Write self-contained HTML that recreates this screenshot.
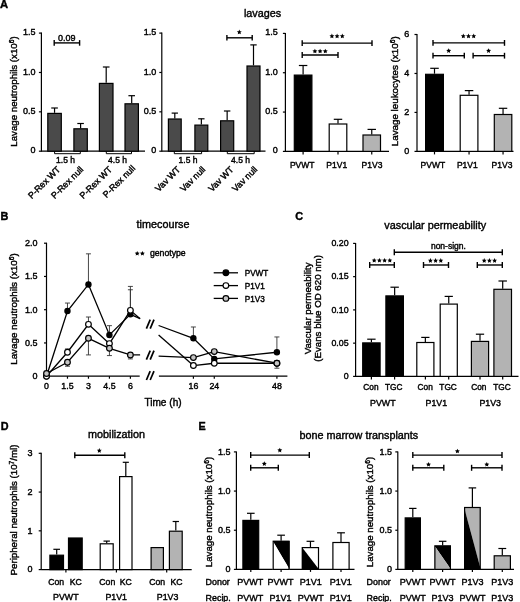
<!DOCTYPE html>
<html><head><meta charset="utf-8"><style>
html,body{margin:0;padding:0;background:#fff;}
svg{display:block;will-change:transform;}
text{font-family:"Liberation Sans", sans-serif;}
</style></head><body>
<svg width="520" height="602" viewBox="0 0 520 602">
<rect width="520" height="602" fill="#fff"/>
<text transform="translate(0.00,8.30)" font-size="11.2" text-anchor="start" font-weight="bold" fill="#000" stroke="#000" stroke-width="0.4">A</text>
<text transform="translate(262.50,17.00)" font-size="10.8" text-anchor="middle" font-weight="normal" fill="#000" stroke="#000" stroke-width="0.4">lavages</text>
<line x1="41.40" y1="32.60" x2="41.40" y2="151.70" stroke="#000" stroke-width="1.2"/>
<line x1="38.90" y1="33.10" x2="41.40" y2="33.10" stroke="#000" stroke-width="1.2"/>
<text transform="translate(35.40,35.26)" font-size="9" text-anchor="end" font-weight="normal" fill="#000" stroke="#000" stroke-width="0.4">1.5</text>
<line x1="38.90" y1="72.47" x2="41.40" y2="72.47" stroke="#000" stroke-width="1.2"/>
<text transform="translate(35.40,74.63)" font-size="9" text-anchor="end" font-weight="normal" fill="#000" stroke="#000" stroke-width="0.4">1.0</text>
<line x1="38.90" y1="111.83" x2="41.40" y2="111.83" stroke="#000" stroke-width="1.2"/>
<text transform="translate(35.40,113.99)" font-size="9" text-anchor="end" font-weight="normal" fill="#000" stroke="#000" stroke-width="0.4">0.5</text>
<line x1="38.90" y1="151.20" x2="41.40" y2="151.20" stroke="#000" stroke-width="1.2"/>
<text transform="translate(35.40,153.36)" font-size="9" text-anchor="end" font-weight="normal" fill="#000" stroke="#000" stroke-width="0.4">0</text>
<line x1="41.40" y1="151.20" x2="145.00" y2="151.20" stroke="#000" stroke-width="1.2"/>
<text transform="translate(17.00,91.50) rotate(-90)" font-size="9.7" text-anchor="middle" font-weight="normal" fill="#000" stroke="#000" stroke-width="0.4">Lavage neutrophils (x10<tspan dy="-3" font-size="6.7">6</tspan><tspan dy="3">)</tspan></text>
<line x1="54.55" y1="112.80" x2="54.55" y2="108.00" stroke="#000" stroke-width="1.2"/>
<line x1="51.24" y1="108.00" x2="57.86" y2="108.00" stroke="#000" stroke-width="1.2"/>
<rect x="47.80" y="113.40" width="13.50" height="37.80" fill="#4a4a4a" stroke="#000" stroke-width="1.2"/>
<line x1="80.60" y1="128.20" x2="80.60" y2="123.50" stroke="#000" stroke-width="1.2"/>
<line x1="77.31" y1="123.50" x2="83.88" y2="123.50" stroke="#000" stroke-width="1.2"/>
<rect x="73.90" y="128.80" width="13.40" height="22.40" fill="#4a4a4a" stroke="#000" stroke-width="1.2"/>
<line x1="106.20" y1="82.80" x2="106.20" y2="67.00" stroke="#000" stroke-width="1.2"/>
<line x1="102.87" y1="67.00" x2="109.53" y2="67.00" stroke="#000" stroke-width="1.2"/>
<rect x="99.40" y="83.40" width="13.60" height="67.80" fill="#4a4a4a" stroke="#000" stroke-width="1.2"/>
<line x1="131.70" y1="103.20" x2="131.70" y2="95.70" stroke="#000" stroke-width="1.2"/>
<line x1="128.41" y1="95.70" x2="134.98" y2="95.70" stroke="#000" stroke-width="1.2"/>
<rect x="125.00" y="103.80" width="13.40" height="47.40" fill="#4a4a4a" stroke="#000" stroke-width="1.2"/>
<path d="M54.60,151.20 V153.70 H80.30 V151.20" stroke="#000" stroke-width="1.0" fill="none"/>
<path d="M106.30,151.20 V153.70 H131.50 V151.20" stroke="#000" stroke-width="1.0" fill="none"/>
<text transform="translate(65.50,162.60)" font-size="8.5" text-anchor="middle" font-weight="normal" fill="#000" stroke="#000" stroke-width="0.4">1.5 h</text>
<text transform="translate(117.50,162.60)" font-size="8.5" text-anchor="middle" font-weight="normal" fill="#000" stroke="#000" stroke-width="0.4">4.5 h</text>
<line x1="54.20" y1="42.90" x2="79.60" y2="42.90" stroke="#000" stroke-width="1.4"/>
<line x1="54.20" y1="40.10" x2="54.20" y2="45.70" stroke="#000" stroke-width="1.4"/>
<line x1="79.60" y1="40.10" x2="79.60" y2="45.70" stroke="#000" stroke-width="1.4"/>
<text transform="translate(66.80,40.60)" font-size="9" text-anchor="middle" font-weight="normal" fill="#000" stroke="#000" stroke-width="0.4">0.09</text>
<text transform="translate(61.00,170.00) rotate(-45)" font-size="9" text-anchor="end" font-weight="normal" fill="#000" stroke="#000" stroke-width="0.4">P-Rex WT</text>
<text transform="translate(84.00,170.00) rotate(-45)" font-size="9" text-anchor="end" font-weight="normal" fill="#000" stroke="#000" stroke-width="0.4">P-Rex null</text>
<text transform="translate(112.60,170.00) rotate(-45)" font-size="9" text-anchor="end" font-weight="normal" fill="#000" stroke="#000" stroke-width="0.4">P-Rex WT</text>
<text transform="translate(135.80,168.80) rotate(-45)" font-size="9" text-anchor="end" font-weight="normal" fill="#000" stroke="#000" stroke-width="0.4">P-Rex null</text>
<line x1="161.80" y1="32.60" x2="161.80" y2="151.70" stroke="#000" stroke-width="1.2"/>
<line x1="159.30" y1="33.10" x2="161.80" y2="33.10" stroke="#000" stroke-width="1.2"/>
<text transform="translate(156.30,35.26)" font-size="9" text-anchor="end" font-weight="normal" fill="#000" stroke="#000" stroke-width="0.4">1.5</text>
<line x1="159.30" y1="72.47" x2="161.80" y2="72.47" stroke="#000" stroke-width="1.2"/>
<text transform="translate(156.30,74.63)" font-size="9" text-anchor="end" font-weight="normal" fill="#000" stroke="#000" stroke-width="0.4">1.0</text>
<line x1="159.30" y1="111.83" x2="161.80" y2="111.83" stroke="#000" stroke-width="1.2"/>
<text transform="translate(156.30,113.99)" font-size="9" text-anchor="end" font-weight="normal" fill="#000" stroke="#000" stroke-width="0.4">0.5</text>
<line x1="159.30" y1="151.20" x2="161.80" y2="151.20" stroke="#000" stroke-width="1.2"/>
<text transform="translate(156.30,153.36)" font-size="9" text-anchor="end" font-weight="normal" fill="#000" stroke="#000" stroke-width="0.4">0</text>
<line x1="161.80" y1="151.20" x2="265.50" y2="151.20" stroke="#000" stroke-width="1.2"/>
<line x1="174.80" y1="118.40" x2="174.80" y2="113.10" stroke="#000" stroke-width="1.2"/>
<line x1="171.65" y1="113.10" x2="177.95" y2="113.10" stroke="#000" stroke-width="1.2"/>
<rect x="168.40" y="119.00" width="12.80" height="32.20" fill="#4a4a4a" stroke="#000" stroke-width="1.2"/>
<line x1="201.35" y1="124.50" x2="201.35" y2="118.80" stroke="#000" stroke-width="1.2"/>
<line x1="198.18" y1="118.80" x2="204.52" y2="118.80" stroke="#000" stroke-width="1.2"/>
<rect x="194.90" y="125.10" width="12.90" height="26.10" fill="#4a4a4a" stroke="#000" stroke-width="1.2"/>
<line x1="227.15" y1="120.20" x2="227.15" y2="111.00" stroke="#000" stroke-width="1.2"/>
<line x1="223.93" y1="111.00" x2="230.37" y2="111.00" stroke="#000" stroke-width="1.2"/>
<rect x="220.60" y="120.80" width="13.10" height="30.40" fill="#4a4a4a" stroke="#000" stroke-width="1.2"/>
<line x1="253.50" y1="65.40" x2="253.50" y2="44.90" stroke="#000" stroke-width="1.2"/>
<line x1="250.31" y1="44.90" x2="256.69" y2="44.90" stroke="#000" stroke-width="1.2"/>
<rect x="247.00" y="66.00" width="13.00" height="85.20" fill="#4a4a4a" stroke="#000" stroke-width="1.2"/>
<path d="M174.30,151.20 V153.70 H201.60 V151.20" stroke="#000" stroke-width="1.0" fill="none"/>
<path d="M227.30,151.20 V153.70 H254.20 V151.20" stroke="#000" stroke-width="1.0" fill="none"/>
<text transform="translate(188.00,162.60)" font-size="8.5" text-anchor="middle" font-weight="normal" fill="#000" stroke="#000" stroke-width="0.4">1.5 h</text>
<text transform="translate(240.50,162.60)" font-size="8.5" text-anchor="middle" font-weight="normal" fill="#000" stroke="#000" stroke-width="0.4">4.5 h</text>
<line x1="226.90" y1="37.80" x2="252.20" y2="37.80" stroke="#000" stroke-width="1.4"/>
<line x1="226.90" y1="35.10" x2="226.90" y2="40.50" stroke="#000" stroke-width="1.4"/>
<line x1="252.20" y1="35.10" x2="252.20" y2="40.50" stroke="#000" stroke-width="1.4"/>
<polygon points="239.30,29.60 240.03,31.14 241.73,31.36 240.49,32.54 240.80,34.21 239.30,33.40 237.80,34.21 238.11,32.54 236.87,31.36 238.57,31.14" fill="#000"/>
<text transform="translate(181.00,170.00) rotate(-45)" font-size="9" text-anchor="end" font-weight="normal" fill="#000" stroke="#000" stroke-width="0.4">Vav WT</text>
<text transform="translate(206.00,170.00) rotate(-45)" font-size="9" text-anchor="end" font-weight="normal" fill="#000" stroke="#000" stroke-width="0.4">Vav null</text>
<text transform="translate(234.20,170.00) rotate(-45)" font-size="9" text-anchor="end" font-weight="normal" fill="#000" stroke="#000" stroke-width="0.4">Vav WT</text>
<text transform="translate(258.00,170.00) rotate(-45)" font-size="9" text-anchor="end" font-weight="normal" fill="#000" stroke="#000" stroke-width="0.4">Vav null</text>
<line x1="285.40" y1="32.90" x2="285.40" y2="151.90" stroke="#000" stroke-width="1.2"/>
<line x1="282.90" y1="33.40" x2="285.40" y2="33.40" stroke="#000" stroke-width="1.2"/>
<text transform="translate(277.70,35.38)" font-size="9" text-anchor="end" font-weight="normal" fill="#000" stroke="#000" stroke-width="0.4">1.5</text>
<line x1="282.90" y1="72.73" x2="285.40" y2="72.73" stroke="#000" stroke-width="1.2"/>
<text transform="translate(277.70,74.71)" font-size="9" text-anchor="end" font-weight="normal" fill="#000" stroke="#000" stroke-width="0.4">1.0</text>
<line x1="282.90" y1="112.07" x2="285.40" y2="112.07" stroke="#000" stroke-width="1.2"/>
<text transform="translate(277.70,114.05)" font-size="9" text-anchor="end" font-weight="normal" fill="#000" stroke="#000" stroke-width="0.4">0.5</text>
<line x1="282.90" y1="151.40" x2="285.40" y2="151.40" stroke="#000" stroke-width="1.2"/>
<text transform="translate(277.70,153.38)" font-size="9" text-anchor="end" font-weight="normal" fill="#000" stroke="#000" stroke-width="0.4">0</text>
<line x1="285.40" y1="151.40" x2="389.00" y2="151.40" stroke="#000" stroke-width="1.2"/>
<line x1="303.10" y1="74.50" x2="303.10" y2="65.50" stroke="#000" stroke-width="1.2"/>
<line x1="298.87" y1="65.50" x2="307.33" y2="65.50" stroke="#000" stroke-width="1.2"/>
<rect x="294.30" y="75.10" width="17.60" height="76.30" fill="#000" stroke="#000" stroke-width="1.2"/>
<line x1="303.10" y1="151.40" x2="303.10" y2="154.40" stroke="#000" stroke-width="1.2"/>
<line x1="338.00" y1="123.40" x2="338.00" y2="119.30" stroke="#000" stroke-width="1.2"/>
<line x1="333.77" y1="119.30" x2="342.23" y2="119.30" stroke="#000" stroke-width="1.2"/>
<rect x="329.20" y="124.00" width="17.60" height="27.40" fill="#fff" stroke="#000" stroke-width="1.2"/>
<line x1="338.00" y1="151.40" x2="338.00" y2="154.40" stroke="#000" stroke-width="1.2"/>
<line x1="371.75" y1="134.40" x2="371.75" y2="129.40" stroke="#000" stroke-width="1.2"/>
<line x1="367.54" y1="129.40" x2="375.96" y2="129.40" stroke="#000" stroke-width="1.2"/>
<rect x="363.00" y="135.00" width="17.50" height="16.40" fill="#b3b3b3" stroke="#000" stroke-width="1.2"/>
<line x1="371.75" y1="151.40" x2="371.75" y2="154.40" stroke="#000" stroke-width="1.2"/>
<line x1="302.20" y1="55.00" x2="338.00" y2="55.00" stroke="#000" stroke-width="1.4"/>
<line x1="302.20" y1="52.10" x2="302.20" y2="57.90" stroke="#000" stroke-width="1.4"/>
<line x1="338.00" y1="52.10" x2="338.00" y2="57.90" stroke="#000" stroke-width="1.4"/>
<line x1="302.20" y1="43.10" x2="372.00" y2="43.10" stroke="#000" stroke-width="1.4"/>
<line x1="302.20" y1="40.20" x2="302.20" y2="46.00" stroke="#000" stroke-width="1.4"/>
<line x1="372.00" y1="40.20" x2="372.00" y2="46.00" stroke="#000" stroke-width="1.4"/>
<polygon points="314.90,48.70 315.63,50.24 317.33,50.46 316.09,51.64 316.40,53.31 314.90,52.50 313.40,53.31 313.71,51.64 312.47,50.46 314.17,50.24" fill="#000"/>
<polygon points="320.10,48.70 320.83,50.24 322.53,50.46 321.29,51.64 321.60,53.31 320.10,52.50 318.60,53.31 318.91,51.64 317.67,50.46 319.37,50.24" fill="#000"/>
<polygon points="325.30,48.70 326.03,50.24 327.73,50.46 326.49,51.64 326.80,53.31 325.30,52.50 323.80,53.31 324.11,51.64 322.87,50.46 324.57,50.24" fill="#000"/>
<polygon points="331.90,33.60 332.63,35.14 334.33,35.36 333.09,36.54 333.40,38.21 331.90,37.40 330.40,38.21 330.71,36.54 329.47,35.36 331.17,35.14" fill="#000"/>
<polygon points="337.10,33.60 337.83,35.14 339.53,35.36 338.29,36.54 338.60,38.21 337.10,37.40 335.60,38.21 335.91,36.54 334.67,35.36 336.37,35.14" fill="#000"/>
<polygon points="342.30,33.60 343.03,35.14 344.73,35.36 343.49,36.54 343.80,38.21 342.30,37.40 340.80,38.21 341.11,36.54 339.87,35.36 341.57,35.14" fill="#000"/>
<text transform="translate(302.20,167.80)" font-size="8.5" text-anchor="middle" font-weight="normal" fill="#000" stroke="#000" stroke-width="0.4">PVWT</text>
<text transform="translate(336.70,167.80)" font-size="8.5" text-anchor="middle" font-weight="normal" fill="#000" stroke="#000" stroke-width="0.4">P1V1</text>
<text transform="translate(372.00,167.80)" font-size="8.5" text-anchor="middle" font-weight="normal" fill="#000" stroke="#000" stroke-width="0.4">P1V3</text>
<line x1="417.00" y1="34.00" x2="417.00" y2="151.90" stroke="#000" stroke-width="1.2"/>
<line x1="414.50" y1="34.50" x2="417.00" y2="34.50" stroke="#000" stroke-width="1.2"/>
<text transform="translate(409.30,37.38)" font-size="9" text-anchor="end" font-weight="normal" fill="#000" stroke="#000" stroke-width="0.4">6</text>
<line x1="414.50" y1="73.47" x2="417.00" y2="73.47" stroke="#000" stroke-width="1.2"/>
<text transform="translate(409.30,76.35)" font-size="9" text-anchor="end" font-weight="normal" fill="#000" stroke="#000" stroke-width="0.4">4</text>
<line x1="414.50" y1="112.43" x2="417.00" y2="112.43" stroke="#000" stroke-width="1.2"/>
<text transform="translate(409.30,115.31)" font-size="9" text-anchor="end" font-weight="normal" fill="#000" stroke="#000" stroke-width="0.4">2</text>
<line x1="414.50" y1="151.40" x2="417.00" y2="151.40" stroke="#000" stroke-width="1.2"/>
<text transform="translate(409.30,154.28)" font-size="9" text-anchor="end" font-weight="normal" fill="#000" stroke="#000" stroke-width="0.4">0</text>
<line x1="417.00" y1="151.40" x2="513.50" y2="151.40" stroke="#000" stroke-width="1.2"/>
<text transform="translate(397.60,91.30) rotate(-90)" font-size="9.8" text-anchor="middle" font-weight="normal" fill="#000" stroke="#000" stroke-width="0.4">Lavage leukocytes (x10<tspan dy="-3" font-size="6.7">6</tspan><tspan dy="3">)</tspan></text>
<line x1="434.50" y1="73.70" x2="434.50" y2="68.30" stroke="#000" stroke-width="1.2"/>
<line x1="430.23" y1="68.30" x2="438.77" y2="68.30" stroke="#000" stroke-width="1.2"/>
<rect x="425.60" y="74.30" width="17.80" height="77.10" fill="#000" stroke="#000" stroke-width="1.2"/>
<line x1="434.50" y1="151.40" x2="434.50" y2="154.40" stroke="#000" stroke-width="1.2"/>
<line x1="469.05" y1="94.70" x2="469.05" y2="90.60" stroke="#000" stroke-width="1.2"/>
<line x1="464.80" y1="90.60" x2="473.30" y2="90.60" stroke="#000" stroke-width="1.2"/>
<rect x="460.20" y="95.30" width="17.70" height="56.10" fill="#fff" stroke="#000" stroke-width="1.2"/>
<line x1="469.05" y1="151.40" x2="469.05" y2="154.40" stroke="#000" stroke-width="1.2"/>
<line x1="503.05" y1="113.90" x2="503.05" y2="108.30" stroke="#000" stroke-width="1.2"/>
<line x1="498.84" y1="108.30" x2="507.26" y2="108.30" stroke="#000" stroke-width="1.2"/>
<rect x="494.30" y="114.50" width="17.50" height="36.90" fill="#b3b3b3" stroke="#000" stroke-width="1.2"/>
<line x1="503.05" y1="151.40" x2="503.05" y2="154.40" stroke="#000" stroke-width="1.2"/>
<line x1="433.00" y1="42.90" x2="504.50" y2="42.90" stroke="#000" stroke-width="1.4"/>
<line x1="433.00" y1="40.00" x2="433.00" y2="45.80" stroke="#000" stroke-width="1.4"/>
<line x1="504.50" y1="40.00" x2="504.50" y2="45.80" stroke="#000" stroke-width="1.4"/>
<line x1="433.00" y1="55.70" x2="464.30" y2="55.70" stroke="#000" stroke-width="1.4"/>
<line x1="433.00" y1="52.80" x2="433.00" y2="58.60" stroke="#000" stroke-width="1.4"/>
<line x1="464.30" y1="52.80" x2="464.30" y2="58.60" stroke="#000" stroke-width="1.4"/>
<line x1="473.10" y1="55.70" x2="504.50" y2="55.70" stroke="#000" stroke-width="1.4"/>
<line x1="473.10" y1="52.80" x2="473.10" y2="58.60" stroke="#000" stroke-width="1.4"/>
<line x1="504.50" y1="52.80" x2="504.50" y2="58.60" stroke="#000" stroke-width="1.4"/>
<polygon points="463.30,33.60 464.03,35.14 465.73,35.36 464.49,36.54 464.80,38.21 463.30,37.40 461.80,38.21 462.11,36.54 460.87,35.36 462.57,35.14" fill="#000"/>
<polygon points="468.50,33.60 469.23,35.14 470.93,35.36 469.69,36.54 470.00,38.21 468.50,37.40 467.00,38.21 467.31,36.54 466.07,35.36 467.77,35.14" fill="#000"/>
<polygon points="473.70,33.60 474.43,35.14 476.13,35.36 474.89,36.54 475.20,38.21 473.70,37.40 472.20,38.21 472.51,36.54 471.27,35.36 472.97,35.14" fill="#000"/>
<polygon points="448.70,48.30 449.43,49.84 451.13,50.06 449.89,51.24 450.20,52.91 448.70,52.10 447.20,52.91 447.51,51.24 446.27,50.06 447.97,49.84" fill="#000"/>
<polygon points="488.60,48.30 489.33,49.84 491.03,50.06 489.79,51.24 490.10,52.91 488.60,52.10 487.10,52.91 487.41,51.24 486.17,50.06 487.87,49.84" fill="#000"/>
<text transform="translate(432.90,168.00)" font-size="8.5" text-anchor="middle" font-weight="normal" fill="#000" stroke="#000" stroke-width="0.4">PVWT</text>
<text transform="translate(467.30,168.00)" font-size="8.5" text-anchor="middle" font-weight="normal" fill="#000" stroke="#000" stroke-width="0.4">P1V1</text>
<text transform="translate(502.00,168.00)" font-size="8.5" text-anchor="middle" font-weight="normal" fill="#000" stroke="#000" stroke-width="0.4">P1V3</text>
<text transform="translate(0.50,220.00)" font-size="10.9" text-anchor="start" font-weight="bold" fill="#000" stroke="#000" stroke-width="0.4">B</text>
<text transform="translate(163.00,228.20)" font-size="10.8" text-anchor="middle" font-weight="normal" fill="#000" stroke="#000" stroke-width="0.4">timecourse</text>
<polygon points="137.20,251.00 137.93,252.54 139.63,252.76 138.39,253.94 138.70,255.61 137.20,254.80 135.70,255.61 136.01,253.94 134.77,252.76 136.47,252.54" fill="#000"/>
<polygon points="142.40,251.00 143.13,252.54 144.83,252.76 143.59,253.94 143.90,255.61 142.40,254.80 140.90,255.61 141.21,253.94 139.97,252.76 141.67,252.54" fill="#000"/>
<text transform="translate(149.90,256.00)" font-size="8.7" text-anchor="start" font-weight="normal" fill="#000" stroke="#000" stroke-width="0.4">genotype</text>
<line x1="46.50" y1="242.70" x2="46.50" y2="376.70" stroke="#000" stroke-width="1.2"/>
<line x1="44.00" y1="243.20" x2="46.50" y2="243.20" stroke="#000" stroke-width="1.2"/>
<text transform="translate(37.50,246.08)" font-size="9" text-anchor="end" font-weight="normal" fill="#000" stroke="#000" stroke-width="0.4">2.0</text>
<line x1="44.00" y1="276.45" x2="46.50" y2="276.45" stroke="#000" stroke-width="1.2"/>
<text transform="translate(37.50,279.33)" font-size="9" text-anchor="end" font-weight="normal" fill="#000" stroke="#000" stroke-width="0.4">1.5</text>
<line x1="44.00" y1="309.70" x2="46.50" y2="309.70" stroke="#000" stroke-width="1.2"/>
<text transform="translate(37.50,312.58)" font-size="9" text-anchor="end" font-weight="normal" fill="#000" stroke="#000" stroke-width="0.4">1.0</text>
<line x1="44.00" y1="342.95" x2="46.50" y2="342.95" stroke="#000" stroke-width="1.2"/>
<text transform="translate(37.50,345.83)" font-size="9" text-anchor="end" font-weight="normal" fill="#000" stroke="#000" stroke-width="0.4">0.5</text>
<line x1="44.00" y1="376.20" x2="46.50" y2="376.20" stroke="#000" stroke-width="1.2"/>
<text transform="translate(37.50,379.08)" font-size="9" text-anchor="end" font-weight="normal" fill="#000" stroke="#000" stroke-width="0.4">0</text>
<text transform="translate(17.30,309.00) rotate(-90)" font-size="9.8" text-anchor="middle" font-weight="normal" fill="#000" stroke="#000" stroke-width="0.4">Lavage neutrophils (x10<tspan dy="-3" font-size="6.7">6</tspan><tspan dy="3">)</tspan></text>
<line x1="43.00" y1="376.20" x2="139.70" y2="376.20" stroke="#000" stroke-width="1.2"/>
<line x1="158.90" y1="376.20" x2="287.40" y2="376.20" stroke="#000" stroke-width="1.2"/>
<line x1="46.50" y1="376.20" x2="46.50" y2="378.70" stroke="#000" stroke-width="1.2"/>
<text transform="translate(46.50,389.10)" font-size="8.8" text-anchor="middle" font-weight="normal" fill="#000" stroke="#000" stroke-width="0.4">0</text>
<line x1="67.47" y1="376.20" x2="67.47" y2="378.70" stroke="#000" stroke-width="1.2"/>
<text transform="translate(67.47,389.10)" font-size="8.8" text-anchor="middle" font-weight="normal" fill="#000" stroke="#000" stroke-width="0.4">1.5</text>
<line x1="88.45" y1="376.20" x2="88.45" y2="378.70" stroke="#000" stroke-width="1.2"/>
<text transform="translate(88.45,389.10)" font-size="8.8" text-anchor="middle" font-weight="normal" fill="#000" stroke="#000" stroke-width="0.4">3</text>
<line x1="109.43" y1="376.20" x2="109.43" y2="378.70" stroke="#000" stroke-width="1.2"/>
<text transform="translate(109.43,389.10)" font-size="8.8" text-anchor="middle" font-weight="normal" fill="#000" stroke="#000" stroke-width="0.4">4.5</text>
<line x1="130.40" y1="376.20" x2="130.40" y2="378.70" stroke="#000" stroke-width="1.2"/>
<text transform="translate(130.40,389.10)" font-size="8.8" text-anchor="middle" font-weight="normal" fill="#000" stroke="#000" stroke-width="0.4">6</text>
<line x1="193.40" y1="376.20" x2="193.40" y2="378.70" stroke="#000" stroke-width="1.2"/>
<text transform="translate(193.40,389.10)" font-size="8.8" text-anchor="middle" font-weight="normal" fill="#000" stroke="#000" stroke-width="0.4">16</text>
<line x1="214.28" y1="376.20" x2="214.28" y2="378.70" stroke="#000" stroke-width="1.2"/>
<text transform="translate(214.28,389.10)" font-size="8.8" text-anchor="middle" font-weight="normal" fill="#000" stroke="#000" stroke-width="0.4">24</text>
<line x1="276.90" y1="376.20" x2="276.90" y2="378.70" stroke="#000" stroke-width="1.2"/>
<text transform="translate(276.90,389.10)" font-size="8.8" text-anchor="middle" font-weight="normal" fill="#000" stroke="#000" stroke-width="0.4">48</text>
<text transform="translate(163.00,406.00)" font-size="10.1" text-anchor="middle" font-weight="normal" fill="#000" stroke="#000" stroke-width="0.4">Time (h)</text>
<line x1="150.20" y1="319.70" x2="146.40" y2="328.60" stroke="#000" stroke-width="1.7"/>
<line x1="154.00" y1="319.70" x2="150.20" y2="328.60" stroke="#000" stroke-width="1.7"/>
<line x1="150.20" y1="350.60" x2="146.40" y2="359.60" stroke="#000" stroke-width="1.7"/>
<line x1="154.00" y1="350.60" x2="150.20" y2="359.60" stroke="#000" stroke-width="1.7"/>
<line x1="150.20" y1="371.20" x2="146.40" y2="380.00" stroke="#000" stroke-width="1.7"/>
<line x1="154.00" y1="371.20" x2="150.20" y2="380.00" stroke="#000" stroke-width="1.7"/>
<line x1="67.47" y1="311.03" x2="67.47" y2="303.05" stroke="#333" stroke-width="0.9"/>
<line x1="64.97" y1="303.05" x2="69.97" y2="303.05" stroke="#333" stroke-width="0.9"/>
<line x1="88.45" y1="284.43" x2="88.45" y2="253.84" stroke="#333" stroke-width="0.9"/>
<line x1="85.95" y1="253.84" x2="90.95" y2="253.84" stroke="#333" stroke-width="0.9"/>
<line x1="109.43" y1="334.97" x2="109.43" y2="325.66" stroke="#333" stroke-width="0.9"/>
<line x1="106.93" y1="325.66" x2="111.93" y2="325.66" stroke="#333" stroke-width="0.9"/>
<line x1="130.40" y1="314.35" x2="130.40" y2="286.42" stroke="#333" stroke-width="0.9"/>
<line x1="127.90" y1="286.42" x2="132.90" y2="286.42" stroke="#333" stroke-width="0.9"/>
<line x1="130.40" y1="310.37" x2="130.40" y2="289.75" stroke="#333" stroke-width="0.9"/>
<line x1="127.90" y1="289.75" x2="132.90" y2="289.75" stroke="#333" stroke-width="0.9"/>
<line x1="88.45" y1="324.33" x2="88.45" y2="317.01" stroke="#333" stroke-width="0.9"/>
<line x1="85.95" y1="317.01" x2="90.95" y2="317.01" stroke="#333" stroke-width="0.9"/>
<line x1="67.47" y1="352.26" x2="67.47" y2="348.94" stroke="#333" stroke-width="0.9"/>
<line x1="64.97" y1="348.94" x2="69.97" y2="348.94" stroke="#333" stroke-width="0.9"/>
<line x1="88.45" y1="338.30" x2="88.45" y2="354.92" stroke="#333" stroke-width="0.9"/>
<line x1="85.95" y1="354.92" x2="90.95" y2="354.92" stroke="#333" stroke-width="0.9"/>
<line x1="67.47" y1="362.24" x2="67.47" y2="366.22" stroke="#333" stroke-width="0.9"/>
<line x1="64.97" y1="366.22" x2="69.97" y2="366.22" stroke="#333" stroke-width="0.9"/>
<line x1="109.43" y1="348.27" x2="109.43" y2="355.58" stroke="#333" stroke-width="0.9"/>
<line x1="106.93" y1="355.58" x2="111.93" y2="355.58" stroke="#333" stroke-width="0.9"/>
<line x1="130.40" y1="354.92" x2="130.40" y2="358.91" stroke="#333" stroke-width="0.9"/>
<line x1="127.90" y1="358.91" x2="132.90" y2="358.91" stroke="#333" stroke-width="0.9"/>
<line x1="193.40" y1="338.30" x2="193.40" y2="326.99" stroke="#333" stroke-width="0.9"/>
<line x1="190.90" y1="326.99" x2="195.90" y2="326.99" stroke="#333" stroke-width="0.9"/>
<line x1="276.90" y1="352.26" x2="276.90" y2="336.96" stroke="#333" stroke-width="0.9"/>
<line x1="274.40" y1="336.96" x2="279.40" y2="336.96" stroke="#333" stroke-width="0.9"/>
<line x1="276.90" y1="363.23" x2="276.90" y2="368.22" stroke="#333" stroke-width="0.9"/>
<line x1="274.40" y1="368.22" x2="279.40" y2="368.22" stroke="#333" stroke-width="0.9"/>
<polyline points="46.50,373.54 67.47,362.24 88.45,338.30 109.43,348.27 130.40,354.92" fill="none" stroke="#000" stroke-width="1.3"/>
<polyline points="193.40,357.58 214.28,351.59 276.90,363.23" fill="none" stroke="#000" stroke-width="1.3"/>
<line x1="130.40" y1="354.92" x2="140.10" y2="354.80" stroke="#000" stroke-width="1.3"/>
<line x1="158.60" y1="356.20" x2="193.40" y2="357.58" stroke="#000" stroke-width="1.3"/>
<polyline points="46.50,376.20 67.47,352.26 88.45,324.33 109.43,343.62 130.40,310.37" fill="none" stroke="#000" stroke-width="1.3"/>
<polyline points="193.40,365.56 214.28,363.23 276.90,363.23" fill="none" stroke="#000" stroke-width="1.3"/>
<line x1="130.40" y1="310.37" x2="140.10" y2="318.70" stroke="#000" stroke-width="1.3"/>
<line x1="158.60" y1="334.90" x2="193.40" y2="365.56" stroke="#000" stroke-width="1.3"/>
<polyline points="46.50,376.20 67.47,311.03 88.45,284.43 109.43,334.97 130.40,314.35" fill="none" stroke="#000" stroke-width="1.3"/>
<polyline points="193.40,338.30 214.28,358.91 276.90,352.26" fill="none" stroke="#000" stroke-width="1.3"/>
<line x1="130.40" y1="314.35" x2="140.10" y2="318.70" stroke="#000" stroke-width="1.3"/>
<line x1="158.60" y1="325.50" x2="193.40" y2="338.30" stroke="#000" stroke-width="1.3"/>
<circle cx="46.50" cy="376.20" r="2.6" fill="#000" stroke="#000" stroke-width="1.2"/>
<circle cx="67.47" cy="311.03" r="2.6" fill="#000" stroke="#000" stroke-width="1.2"/>
<circle cx="88.45" cy="284.43" r="2.6" fill="#000" stroke="#000" stroke-width="1.2"/>
<circle cx="109.43" cy="334.97" r="2.6" fill="#000" stroke="#000" stroke-width="1.2"/>
<circle cx="130.40" cy="314.35" r="2.6" fill="#000" stroke="#000" stroke-width="1.2"/>
<circle cx="193.40" cy="338.30" r="2.6" fill="#000" stroke="#000" stroke-width="1.2"/>
<circle cx="214.28" cy="358.91" r="2.6" fill="#000" stroke="#000" stroke-width="1.2"/>
<circle cx="276.90" cy="352.26" r="2.6" fill="#000" stroke="#000" stroke-width="1.2"/>
<circle cx="46.50" cy="376.20" r="2.85" fill="#fff" stroke="#000" stroke-width="1.2"/>
<circle cx="67.47" cy="352.26" r="2.85" fill="#fff" stroke="#000" stroke-width="1.2"/>
<circle cx="88.45" cy="324.33" r="2.85" fill="#fff" stroke="#000" stroke-width="1.2"/>
<circle cx="109.43" cy="343.62" r="2.85" fill="#fff" stroke="#000" stroke-width="1.2"/>
<circle cx="130.40" cy="310.37" r="2.85" fill="#fff" stroke="#000" stroke-width="1.2"/>
<circle cx="193.40" cy="365.56" r="2.85" fill="#fff" stroke="#000" stroke-width="1.2"/>
<circle cx="214.28" cy="363.23" r="2.85" fill="#fff" stroke="#000" stroke-width="1.2"/>
<circle cx="276.90" cy="363.23" r="2.85" fill="#fff" stroke="#000" stroke-width="1.2"/>
<circle cx="46.50" cy="373.54" r="2.85" fill="#c4c4c4" stroke="#000" stroke-width="1.2"/>
<circle cx="67.47" cy="362.24" r="2.85" fill="#c4c4c4" stroke="#000" stroke-width="1.2"/>
<circle cx="88.45" cy="338.30" r="2.85" fill="#c4c4c4" stroke="#000" stroke-width="1.2"/>
<circle cx="109.43" cy="348.27" r="2.85" fill="#c4c4c4" stroke="#000" stroke-width="1.2"/>
<circle cx="130.40" cy="354.92" r="2.85" fill="#c4c4c4" stroke="#000" stroke-width="1.2"/>
<circle cx="193.40" cy="357.58" r="2.85" fill="#c4c4c4" stroke="#000" stroke-width="1.2"/>
<circle cx="214.28" cy="351.59" r="2.85" fill="#c4c4c4" stroke="#000" stroke-width="1.2"/>
<circle cx="276.90" cy="363.23" r="2.85" fill="#c4c4c4" stroke="#000" stroke-width="1.2"/>
<line x1="213.70" y1="272.80" x2="238.00" y2="272.80" stroke="#000" stroke-width="1.3"/>
<circle cx="225.9" cy="272.8" r="2.85" fill="#000" stroke="#000" stroke-width="1.2"/>
<text transform="translate(244.70,276.10) scale(0.93,1)" font-size="8.8" text-anchor="start" font-weight="normal" fill="#000" stroke="#000" stroke-width="0.4">PVWT</text>
<line x1="213.70" y1="285.60" x2="238.00" y2="285.60" stroke="#000" stroke-width="1.3"/>
<circle cx="225.9" cy="285.6" r="2.85" fill="#fff" stroke="#000" stroke-width="1.2"/>
<text transform="translate(244.70,288.90) scale(0.93,1)" font-size="8.8" text-anchor="start" font-weight="normal" fill="#000" stroke="#000" stroke-width="0.4">P1V1</text>
<line x1="213.70" y1="298.40" x2="238.00" y2="298.40" stroke="#000" stroke-width="1.3"/>
<circle cx="225.9" cy="298.4" r="2.85" fill="#c4c4c4" stroke="#000" stroke-width="1.2"/>
<text transform="translate(244.70,301.70) scale(0.93,1)" font-size="8.8" text-anchor="start" font-weight="normal" fill="#000" stroke="#000" stroke-width="0.4">P1V3</text>
<text transform="translate(295.20,220.00)" font-size="10.9" text-anchor="start" font-weight="bold" fill="#000" stroke="#000" stroke-width="0.4">C</text>
<text transform="translate(435.20,228.90)" font-size="10.85" text-anchor="middle" font-weight="normal" fill="#000" stroke="#000" stroke-width="0.4">vascular permeability</text>
<line x1="355.60" y1="242.90" x2="355.60" y2="376.90" stroke="#000" stroke-width="1.2"/>
<line x1="353.10" y1="243.40" x2="355.60" y2="243.40" stroke="#000" stroke-width="1.2"/>
<text transform="translate(348.60,246.22)" font-size="8.8" text-anchor="end" font-weight="normal" fill="#000" stroke="#000" stroke-width="0.4">0.20</text>
<line x1="353.10" y1="276.65" x2="355.60" y2="276.65" stroke="#000" stroke-width="1.2"/>
<text transform="translate(348.60,279.47)" font-size="8.8" text-anchor="end" font-weight="normal" fill="#000" stroke="#000" stroke-width="0.4">0.15</text>
<line x1="353.10" y1="309.90" x2="355.60" y2="309.90" stroke="#000" stroke-width="1.2"/>
<text transform="translate(348.60,312.72)" font-size="8.8" text-anchor="end" font-weight="normal" fill="#000" stroke="#000" stroke-width="0.4">0.10</text>
<line x1="353.10" y1="343.15" x2="355.60" y2="343.15" stroke="#000" stroke-width="1.2"/>
<text transform="translate(348.60,345.97)" font-size="8.8" text-anchor="end" font-weight="normal" fill="#000" stroke="#000" stroke-width="0.4">0.05</text>
<line x1="353.10" y1="376.40" x2="355.60" y2="376.40" stroke="#000" stroke-width="1.2"/>
<text transform="translate(348.60,379.22)" font-size="8.8" text-anchor="end" font-weight="normal" fill="#000" stroke="#000" stroke-width="0.4">0</text>
<line x1="355.60" y1="376.40" x2="518.50" y2="376.40" stroke="#000" stroke-width="1.2"/>
<text transform="translate(310.60,308.40) rotate(-90)" font-size="9.7" text-anchor="middle" font-weight="normal" fill="#000" stroke="#000" stroke-width="0.4">Vascular permeability</text>
<text transform="translate(320.90,308.40) rotate(-90)" font-size="9.7" text-anchor="middle" font-weight="normal" fill="#000" stroke="#000" stroke-width="0.4">(Evans blue OD 620 nm)</text>
<line x1="371.40" y1="342.30" x2="371.40" y2="339.20" stroke="#000" stroke-width="1.2"/>
<line x1="367.21" y1="339.20" x2="375.58" y2="339.20" stroke="#000" stroke-width="1.2"/>
<rect x="362.70" y="342.90" width="17.40" height="33.50" fill="#000" stroke="#000" stroke-width="1.2"/>
<line x1="394.65" y1="295.30" x2="394.65" y2="287.20" stroke="#000" stroke-width="1.2"/>
<line x1="390.44" y1="287.20" x2="398.86" y2="287.20" stroke="#000" stroke-width="1.2"/>
<rect x="385.90" y="295.90" width="17.50" height="80.50" fill="#000" stroke="#000" stroke-width="1.2"/>
<line x1="425.35" y1="341.90" x2="425.35" y2="337.40" stroke="#000" stroke-width="1.2"/>
<line x1="421.23" y1="337.40" x2="429.47" y2="337.40" stroke="#000" stroke-width="1.2"/>
<rect x="416.80" y="342.50" width="17.10" height="33.90" fill="#fff" stroke="#000" stroke-width="1.2"/>
<line x1="448.75" y1="303.50" x2="448.75" y2="296.40" stroke="#000" stroke-width="1.2"/>
<line x1="444.63" y1="296.40" x2="452.87" y2="296.40" stroke="#000" stroke-width="1.2"/>
<rect x="440.20" y="304.10" width="17.10" height="72.30" fill="#fff" stroke="#000" stroke-width="1.2"/>
<line x1="480.00" y1="340.80" x2="480.00" y2="334.20" stroke="#000" stroke-width="1.2"/>
<line x1="475.86" y1="334.20" x2="484.14" y2="334.20" stroke="#000" stroke-width="1.2"/>
<rect x="471.40" y="341.40" width="17.20" height="35.00" fill="#b3b3b3" stroke="#000" stroke-width="1.2"/>
<line x1="502.70" y1="288.70" x2="502.70" y2="281.00" stroke="#000" stroke-width="1.2"/>
<line x1="498.47" y1="281.00" x2="506.93" y2="281.00" stroke="#000" stroke-width="1.2"/>
<rect x="493.90" y="289.30" width="17.60" height="87.10" fill="#b3b3b3" stroke="#000" stroke-width="1.2"/>
<line x1="371.40" y1="376.40" x2="371.40" y2="379.40" stroke="#000" stroke-width="1.2"/>
<line x1="394.60" y1="376.40" x2="394.60" y2="379.40" stroke="#000" stroke-width="1.2"/>
<line x1="425.40" y1="376.40" x2="425.40" y2="379.40" stroke="#000" stroke-width="1.2"/>
<line x1="448.70" y1="376.40" x2="448.70" y2="379.40" stroke="#000" stroke-width="1.2"/>
<line x1="480.00" y1="376.40" x2="480.00" y2="379.40" stroke="#000" stroke-width="1.2"/>
<line x1="502.70" y1="376.40" x2="502.70" y2="379.40" stroke="#000" stroke-width="1.2"/>
<line x1="394.30" y1="252.30" x2="502.30" y2="252.30" stroke="#000" stroke-width="1.4"/>
<line x1="394.30" y1="249.30" x2="394.30" y2="255.30" stroke="#000" stroke-width="1.4"/>
<line x1="502.30" y1="249.30" x2="502.30" y2="255.30" stroke="#000" stroke-width="1.4"/>
<text transform="translate(448.40,248.60)" font-size="8.5" text-anchor="middle" font-weight="normal" fill="#000" stroke="#000" stroke-width="0.4">non-sign.</text>
<line x1="369.70" y1="264.90" x2="394.30" y2="264.90" stroke="#000" stroke-width="1.4"/>
<line x1="369.70" y1="261.90" x2="369.70" y2="267.90" stroke="#000" stroke-width="1.4"/>
<line x1="394.30" y1="261.90" x2="394.30" y2="267.90" stroke="#000" stroke-width="1.4"/>
<line x1="423.50" y1="265.00" x2="448.50" y2="265.00" stroke="#000" stroke-width="1.4"/>
<line x1="423.50" y1="262.00" x2="423.50" y2="268.00" stroke="#000" stroke-width="1.4"/>
<line x1="448.50" y1="262.00" x2="448.50" y2="268.00" stroke="#000" stroke-width="1.4"/>
<line x1="477.30" y1="265.00" x2="502.30" y2="265.00" stroke="#000" stroke-width="1.4"/>
<line x1="477.30" y1="262.00" x2="477.30" y2="268.00" stroke="#000" stroke-width="1.4"/>
<line x1="502.30" y1="262.00" x2="502.30" y2="268.00" stroke="#000" stroke-width="1.4"/>
<polygon points="374.20,257.90 374.93,259.44 376.63,259.66 375.39,260.84 375.70,262.51 374.20,261.70 372.70,262.51 373.01,260.84 371.77,259.66 373.47,259.44" fill="#000"/>
<polygon points="379.40,257.90 380.13,259.44 381.83,259.66 380.59,260.84 380.90,262.51 379.40,261.70 377.90,262.51 378.21,260.84 376.97,259.66 378.67,259.44" fill="#000"/>
<polygon points="384.60,257.90 385.33,259.44 387.03,259.66 385.79,260.84 386.10,262.51 384.60,261.70 383.10,262.51 383.41,260.84 382.17,259.66 383.87,259.44" fill="#000"/>
<polygon points="389.80,257.90 390.53,259.44 392.23,259.66 390.99,260.84 391.30,262.51 389.80,261.70 388.30,262.51 388.61,260.84 387.37,259.66 389.07,259.44" fill="#000"/>
<polygon points="430.40,258.10 431.13,259.64 432.83,259.86 431.59,261.04 431.90,262.71 430.40,261.90 428.90,262.71 429.21,261.04 427.97,259.86 429.67,259.64" fill="#000"/>
<polygon points="435.60,258.10 436.33,259.64 438.03,259.86 436.79,261.04 437.10,262.71 435.60,261.90 434.10,262.71 434.41,261.04 433.17,259.86 434.87,259.64" fill="#000"/>
<polygon points="440.80,258.10 441.53,259.64 443.23,259.86 441.99,261.04 442.30,262.71 440.80,261.90 439.30,262.71 439.61,261.04 438.37,259.86 440.07,259.64" fill="#000"/>
<polygon points="484.20,258.10 484.93,259.64 486.63,259.86 485.39,261.04 485.70,262.71 484.20,261.90 482.70,262.71 483.01,261.04 481.77,259.86 483.47,259.64" fill="#000"/>
<polygon points="489.40,258.10 490.13,259.64 491.83,259.86 490.59,261.04 490.90,262.71 489.40,261.90 487.90,262.71 488.21,261.04 486.97,259.86 488.67,259.64" fill="#000"/>
<polygon points="494.60,258.10 495.33,259.64 497.03,259.86 495.79,261.04 496.10,262.71 494.60,261.90 493.10,262.71 493.41,261.04 492.17,259.86 493.87,259.64" fill="#000"/>
<text transform="translate(370.90,390.20)" font-size="8.3" text-anchor="middle" font-weight="normal" fill="#000" stroke="#000" stroke-width="0.4">Con</text>
<text transform="translate(393.80,390.20)" font-size="8.3" text-anchor="middle" font-weight="normal" fill="#000" stroke="#000" stroke-width="0.4">TGC</text>
<text transform="translate(425.20,390.20)" font-size="8.3" text-anchor="middle" font-weight="normal" fill="#000" stroke="#000" stroke-width="0.4">Con</text>
<text transform="translate(448.10,390.20)" font-size="8.3" text-anchor="middle" font-weight="normal" fill="#000" stroke="#000" stroke-width="0.4">TGC</text>
<text transform="translate(478.80,390.20)" font-size="8.3" text-anchor="middle" font-weight="normal" fill="#000" stroke="#000" stroke-width="0.4">Con</text>
<text transform="translate(502.00,390.20)" font-size="8.3" text-anchor="middle" font-weight="normal" fill="#000" stroke="#000" stroke-width="0.4">TGC</text>
<text transform="translate(382.80,406.20)" font-size="8.8" text-anchor="middle" font-weight="normal" fill="#000" stroke="#000" stroke-width="0.4">PVWT</text>
<text transform="translate(436.30,406.20)" font-size="8.8" text-anchor="middle" font-weight="normal" fill="#000" stroke="#000" stroke-width="0.4">P1V1</text>
<text transform="translate(490.20,406.20)" font-size="8.8" text-anchor="middle" font-weight="normal" fill="#000" stroke="#000" stroke-width="0.4">P1V3</text>
<text transform="translate(0.80,430.30)" font-size="10.8" text-anchor="start" font-weight="bold" fill="#000" stroke="#000" stroke-width="0.4">D</text>
<text transform="translate(116.50,438.40)" font-size="10.8" text-anchor="middle" font-weight="normal" fill="#000" stroke="#000" stroke-width="0.4">mobilization</text>
<line x1="41.20" y1="452.80" x2="41.20" y2="570.10" stroke="#000" stroke-width="1.2"/>
<line x1="38.70" y1="453.30" x2="41.20" y2="453.30" stroke="#000" stroke-width="1.2"/>
<text transform="translate(32.40,456.18)" font-size="9" text-anchor="end" font-weight="normal" fill="#000" stroke="#000" stroke-width="0.4">3</text>
<line x1="38.70" y1="492.07" x2="41.20" y2="492.07" stroke="#000" stroke-width="1.2"/>
<text transform="translate(32.40,494.95)" font-size="9" text-anchor="end" font-weight="normal" fill="#000" stroke="#000" stroke-width="0.4">2</text>
<line x1="38.70" y1="530.83" x2="41.20" y2="530.83" stroke="#000" stroke-width="1.2"/>
<text transform="translate(32.40,533.71)" font-size="9" text-anchor="end" font-weight="normal" fill="#000" stroke="#000" stroke-width="0.4">1</text>
<line x1="38.70" y1="569.60" x2="41.20" y2="569.60" stroke="#000" stroke-width="1.2"/>
<text transform="translate(32.40,572.48)" font-size="9" text-anchor="end" font-weight="normal" fill="#000" stroke="#000" stroke-width="0.4">0</text>
<line x1="41.20" y1="569.60" x2="191.70" y2="569.60" stroke="#000" stroke-width="1.2"/>
<text transform="translate(16.50,510.00) rotate(-90)" font-size="9.7" text-anchor="middle" font-weight="normal" fill="#000" stroke="#000" stroke-width="0.4">Peripheral neutrophils (10<tspan dy="-3" font-size="6.7">7</tspan><tspan dy="3">/ml)</tspan></text>
<line x1="56.70" y1="554.60" x2="56.70" y2="549.30" stroke="#000" stroke-width="1.2"/>
<line x1="53.37" y1="549.30" x2="60.03" y2="549.30" stroke="#000" stroke-width="1.2"/>
<rect x="49.90" y="555.20" width="13.60" height="14.40" fill="#000" stroke="#000" stroke-width="1.2"/>
<rect x="68.50" y="538.00" width="13.70" height="31.60" fill="#000" stroke="#000" stroke-width="1.2"/>
<line x1="106.70" y1="543.20" x2="106.70" y2="541.10" stroke="#000" stroke-width="1.2"/>
<line x1="103.50" y1="541.10" x2="109.89" y2="541.10" stroke="#000" stroke-width="1.2"/>
<rect x="100.20" y="543.80" width="13.00" height="25.80" fill="#fff" stroke="#000" stroke-width="1.2"/>
<line x1="125.80" y1="476.00" x2="125.80" y2="462.30" stroke="#000" stroke-width="1.2"/>
<line x1="122.74" y1="462.30" x2="128.86" y2="462.30" stroke="#000" stroke-width="1.2"/>
<rect x="119.60" y="476.60" width="12.40" height="93.00" fill="#fff" stroke="#000" stroke-width="1.2"/>
<rect x="151.10" y="547.60" width="12.30" height="22.00" fill="#b3b3b3" stroke="#000" stroke-width="1.2"/>
<line x1="175.80" y1="530.60" x2="175.80" y2="521.50" stroke="#000" stroke-width="1.2"/>
<line x1="172.65" y1="521.50" x2="178.95" y2="521.50" stroke="#000" stroke-width="1.2"/>
<rect x="169.40" y="531.20" width="12.80" height="38.40" fill="#b3b3b3" stroke="#000" stroke-width="1.2"/>
<line x1="65.90" y1="569.60" x2="65.90" y2="572.60" stroke="#000" stroke-width="1.2"/>
<line x1="116.40" y1="569.60" x2="116.40" y2="572.60" stroke="#000" stroke-width="1.2"/>
<line x1="166.70" y1="569.60" x2="166.70" y2="572.60" stroke="#000" stroke-width="1.2"/>
<line x1="74.80" y1="455.20" x2="124.80" y2="455.20" stroke="#000" stroke-width="1.4"/>
<line x1="74.80" y1="452.20" x2="74.80" y2="458.20" stroke="#000" stroke-width="1.4"/>
<line x1="124.80" y1="452.20" x2="124.80" y2="458.20" stroke="#000" stroke-width="1.4"/>
<polygon points="99.30,448.10 100.03,449.64 101.73,449.86 100.49,451.04 100.80,452.71 99.30,451.90 97.80,452.71 98.11,451.04 96.87,449.86 98.57,449.64" fill="#000"/>
<text transform="translate(56.10,584.80)" font-size="8.7" text-anchor="middle" font-weight="normal" fill="#000" stroke="#000" stroke-width="0.4">Con</text>
<text transform="translate(75.70,584.80)" font-size="8.7" text-anchor="middle" font-weight="normal" fill="#000" stroke="#000" stroke-width="0.4">KC</text>
<text transform="translate(107.30,584.80)" font-size="8.7" text-anchor="middle" font-weight="normal" fill="#000" stroke="#000" stroke-width="0.4">Con</text>
<text transform="translate(125.80,584.80)" font-size="8.7" text-anchor="middle" font-weight="normal" fill="#000" stroke="#000" stroke-width="0.4">KC</text>
<text transform="translate(157.20,584.80)" font-size="8.7" text-anchor="middle" font-weight="normal" fill="#000" stroke="#000" stroke-width="0.4">Con</text>
<text transform="translate(176.60,584.80)" font-size="8.7" text-anchor="middle" font-weight="normal" fill="#000" stroke="#000" stroke-width="0.4">KC</text>
<text transform="translate(65.80,600.30)" font-size="8.8" text-anchor="middle" font-weight="normal" fill="#000" stroke="#000" stroke-width="0.4">PVWT</text>
<text transform="translate(116.20,600.30)" font-size="8.8" text-anchor="middle" font-weight="normal" fill="#000" stroke="#000" stroke-width="0.4">P1V1</text>
<text transform="translate(167.60,600.30)" font-size="8.8" text-anchor="middle" font-weight="normal" fill="#000" stroke="#000" stroke-width="0.4">P1V3</text>
<text transform="translate(198.60,430.30)" font-size="10.8" text-anchor="start" font-weight="bold" fill="#000" stroke="#000" stroke-width="0.4">E</text>
<text transform="translate(358.80,438.60)" font-size="10.8" text-anchor="middle" font-weight="normal" fill="#000" stroke="#000" stroke-width="0.4">bone marrow transplants</text>
<line x1="236.40" y1="451.40" x2="236.40" y2="569.90" stroke="#000" stroke-width="1.2"/>
<line x1="233.90" y1="451.90" x2="236.40" y2="451.90" stroke="#000" stroke-width="1.2"/>
<text transform="translate(230.60,454.78)" font-size="9" text-anchor="end" font-weight="normal" fill="#000" stroke="#000" stroke-width="0.4">1.5</text>
<line x1="233.90" y1="491.07" x2="236.40" y2="491.07" stroke="#000" stroke-width="1.2"/>
<text transform="translate(230.60,493.95)" font-size="9" text-anchor="end" font-weight="normal" fill="#000" stroke="#000" stroke-width="0.4">1.0</text>
<line x1="233.90" y1="530.23" x2="236.40" y2="530.23" stroke="#000" stroke-width="1.2"/>
<text transform="translate(230.60,533.11)" font-size="9" text-anchor="end" font-weight="normal" fill="#000" stroke="#000" stroke-width="0.4">0.5</text>
<line x1="233.90" y1="569.40" x2="236.40" y2="569.40" stroke="#000" stroke-width="1.2"/>
<text transform="translate(230.60,572.28)" font-size="9" text-anchor="end" font-weight="normal" fill="#000" stroke="#000" stroke-width="0.4">0</text>
<line x1="397.80" y1="451.40" x2="397.80" y2="569.90" stroke="#000" stroke-width="1.2"/>
<line x1="395.30" y1="451.90" x2="397.80" y2="451.90" stroke="#000" stroke-width="1.2"/>
<text transform="translate(392.00,454.78)" font-size="9" text-anchor="end" font-weight="normal" fill="#000" stroke="#000" stroke-width="0.4">1.5</text>
<line x1="395.30" y1="491.07" x2="397.80" y2="491.07" stroke="#000" stroke-width="1.2"/>
<text transform="translate(392.00,493.95)" font-size="9" text-anchor="end" font-weight="normal" fill="#000" stroke="#000" stroke-width="0.4">1.0</text>
<line x1="395.30" y1="530.23" x2="397.80" y2="530.23" stroke="#000" stroke-width="1.2"/>
<text transform="translate(392.00,533.11)" font-size="9" text-anchor="end" font-weight="normal" fill="#000" stroke="#000" stroke-width="0.4">0.5</text>
<line x1="395.30" y1="569.40" x2="397.80" y2="569.40" stroke="#000" stroke-width="1.2"/>
<text transform="translate(392.00,572.28)" font-size="9" text-anchor="end" font-weight="normal" fill="#000" stroke="#000" stroke-width="0.4">0</text>
<text transform="translate(211.70,512.00) rotate(-90)" font-size="9.7" text-anchor="middle" font-weight="normal" fill="#000" stroke="#000" stroke-width="0.4">Lavage neutrophils (x10<tspan dy="-3" font-size="6.7">6</tspan><tspan dy="3">)</tspan></text>
<text transform="translate(373.20,512.00) rotate(-90)" font-size="9.7" text-anchor="middle" font-weight="normal" fill="#000" stroke="#000" stroke-width="0.4">Lavage neutrophils (x10<tspan dy="-3" font-size="6.7">6</tspan><tspan dy="3">)</tspan></text>
<line x1="236.40" y1="569.40" x2="354.50" y2="569.40" stroke="#000" stroke-width="1.2"/>
<line x1="397.80" y1="569.40" x2="514.00" y2="569.40" stroke="#000" stroke-width="1.2"/>
<line x1="250.80" y1="519.80" x2="250.80" y2="513.30" stroke="#000" stroke-width="1.2"/>
<line x1="246.98" y1="513.30" x2="254.62" y2="513.30" stroke="#000" stroke-width="1.2"/>
<rect x="242.90" y="520.40" width="15.80" height="49.00" fill="#000" stroke="#000" stroke-width="1.2"/>
<line x1="281.10" y1="540.80" x2="281.10" y2="535.20" stroke="#000" stroke-width="1.2"/>
<line x1="277.28" y1="535.20" x2="284.93" y2="535.20" stroke="#000" stroke-width="1.2"/>
<polygon points="272.60,540.80 289.60,540.80 289.60,569.40" fill="#000"/>
<polygon points="272.60,540.80 272.60,569.40 289.60,569.40" fill="#fff"/>
<rect x="273.20" y="541.40" width="15.80" height="28.00" fill="none" stroke="#000" stroke-width="1.2"/>
<line x1="310.45" y1="547.00" x2="310.45" y2="541.30" stroke="#000" stroke-width="1.2"/>
<line x1="306.56" y1="541.30" x2="314.34" y2="541.30" stroke="#000" stroke-width="1.2"/>
<polygon points="301.80,547.00 319.10,547.00 319.10,569.40" fill="#fff"/>
<polygon points="301.80,547.00 301.80,569.40 319.10,569.40" fill="#000"/>
<rect x="302.40" y="547.60" width="16.10" height="21.80" fill="none" stroke="#000" stroke-width="1.2"/>
<line x1="341.00" y1="541.90" x2="341.00" y2="532.80" stroke="#000" stroke-width="1.2"/>
<line x1="337.08" y1="532.80" x2="344.92" y2="532.80" stroke="#000" stroke-width="1.2"/>
<rect x="332.90" y="542.50" width="16.20" height="26.90" fill="#fff" stroke="#000" stroke-width="1.2"/>
<line x1="250.80" y1="569.40" x2="250.80" y2="571.90" stroke="#000" stroke-width="1.2"/>
<line x1="281.10" y1="569.40" x2="281.10" y2="571.90" stroke="#000" stroke-width="1.2"/>
<line x1="310.50" y1="569.40" x2="310.50" y2="571.90" stroke="#000" stroke-width="1.2"/>
<line x1="341.00" y1="569.40" x2="341.00" y2="571.90" stroke="#000" stroke-width="1.2"/>
<line x1="250.70" y1="455.10" x2="309.30" y2="455.10" stroke="#000" stroke-width="1.4"/>
<line x1="250.70" y1="452.10" x2="250.70" y2="458.10" stroke="#000" stroke-width="1.4"/>
<line x1="309.30" y1="452.10" x2="309.30" y2="458.10" stroke="#000" stroke-width="1.4"/>
<line x1="250.70" y1="467.80" x2="278.30" y2="467.80" stroke="#000" stroke-width="1.4"/>
<line x1="250.70" y1="464.80" x2="250.70" y2="470.80" stroke="#000" stroke-width="1.4"/>
<line x1="278.30" y1="464.80" x2="278.30" y2="470.80" stroke="#000" stroke-width="1.4"/>
<polygon points="279.80,447.80 280.53,449.34 282.23,449.56 280.99,450.74 281.30,452.41 279.80,451.60 278.30,452.41 278.61,450.74 277.37,449.56 279.07,449.34" fill="#000"/>
<polygon points="264.30,461.30 265.03,462.84 266.73,463.06 265.49,464.24 265.80,465.91 264.30,465.10 262.80,465.91 263.11,464.24 261.87,463.06 263.57,462.84" fill="#000"/>
<line x1="412.80" y1="517.30" x2="412.80" y2="508.40" stroke="#000" stroke-width="1.2"/>
<line x1="409.11" y1="508.40" x2="416.49" y2="508.40" stroke="#000" stroke-width="1.2"/>
<rect x="405.20" y="517.90" width="15.20" height="51.50" fill="#000" stroke="#000" stroke-width="1.2"/>
<line x1="442.65" y1="545.40" x2="442.65" y2="541.30" stroke="#000" stroke-width="1.2"/>
<line x1="438.89" y1="541.30" x2="446.41" y2="541.30" stroke="#000" stroke-width="1.2"/>
<polygon points="434.30,545.40 451.00,545.40 451.00,569.40" fill="#000"/>
<polygon points="434.30,545.40 434.30,569.40 451.00,569.40" fill="#b3b3b3"/>
<rect x="434.90" y="546.00" width="15.50" height="23.40" fill="none" stroke="#000" stroke-width="1.2"/>
<line x1="472.40" y1="506.90" x2="472.40" y2="487.90" stroke="#000" stroke-width="1.2"/>
<line x1="468.62" y1="487.90" x2="476.18" y2="487.90" stroke="#000" stroke-width="1.2"/>
<polygon points="464.00,506.90 480.80,506.90 480.80,569.40" fill="#b3b3b3"/>
<polygon points="464.00,506.90 464.00,569.40 480.80,569.40" fill="#000"/>
<rect x="464.60" y="507.50" width="15.60" height="61.90" fill="none" stroke="#000" stroke-width="1.2"/>
<line x1="502.30" y1="555.20" x2="502.30" y2="548.50" stroke="#000" stroke-width="1.2"/>
<line x1="498.38" y1="548.50" x2="506.22" y2="548.50" stroke="#000" stroke-width="1.2"/>
<rect x="494.20" y="555.80" width="16.20" height="13.60" fill="#b3b3b3" stroke="#000" stroke-width="1.2"/>
<line x1="412.80" y1="569.40" x2="412.80" y2="571.90" stroke="#000" stroke-width="1.2"/>
<line x1="442.60" y1="569.40" x2="442.60" y2="571.90" stroke="#000" stroke-width="1.2"/>
<line x1="472.40" y1="569.40" x2="472.40" y2="571.90" stroke="#000" stroke-width="1.2"/>
<line x1="502.30" y1="569.40" x2="502.30" y2="571.90" stroke="#000" stroke-width="1.2"/>
<line x1="412.80" y1="455.10" x2="502.00" y2="455.10" stroke="#000" stroke-width="1.4"/>
<line x1="412.80" y1="452.10" x2="412.80" y2="458.10" stroke="#000" stroke-width="1.4"/>
<line x1="502.00" y1="452.10" x2="502.00" y2="458.10" stroke="#000" stroke-width="1.4"/>
<line x1="412.80" y1="467.80" x2="443.80" y2="467.80" stroke="#000" stroke-width="1.4"/>
<line x1="412.80" y1="464.80" x2="412.80" y2="470.80" stroke="#000" stroke-width="1.4"/>
<line x1="443.80" y1="464.80" x2="443.80" y2="470.80" stroke="#000" stroke-width="1.4"/>
<line x1="471.60" y1="467.80" x2="502.00" y2="467.80" stroke="#000" stroke-width="1.4"/>
<line x1="471.60" y1="464.80" x2="471.60" y2="470.80" stroke="#000" stroke-width="1.4"/>
<line x1="502.00" y1="464.80" x2="502.00" y2="470.80" stroke="#000" stroke-width="1.4"/>
<polygon points="457.40,448.70 458.13,450.24 459.83,450.46 458.59,451.64 458.90,453.31 457.40,452.50 455.90,453.31 456.21,451.64 454.97,450.46 456.67,450.24" fill="#000"/>
<polygon points="428.50,462.00 429.23,463.54 430.93,463.76 429.69,464.94 430.00,466.61 428.50,465.80 427.00,466.61 427.31,464.94 426.07,463.76 427.77,463.54" fill="#000"/>
<polygon points="486.80,462.00 487.53,463.54 489.23,463.76 487.99,464.94 488.30,466.61 486.80,465.80 485.30,466.61 485.61,464.94 484.37,463.76 486.07,463.54" fill="#000"/>
<text transform="translate(205.60,585.00)" font-size="8.9" text-anchor="start" font-weight="normal" fill="#000" stroke="#000" stroke-width="0.4">Donor</text>
<text transform="translate(205.60,601.20)" font-size="8.9" text-anchor="start" font-weight="normal" fill="#000" stroke="#000" stroke-width="0.4">Recip.</text>
<text transform="translate(250.30,585.00)" font-size="9.0" text-anchor="middle" font-weight="normal" fill="#000" stroke="#000" stroke-width="0.4">PVWT</text>
<text transform="translate(250.30,601.20)" font-size="9.0" text-anchor="middle" font-weight="normal" fill="#000" stroke="#000" stroke-width="0.4">PVWT</text>
<text transform="translate(280.40,585.00)" font-size="9.0" text-anchor="middle" font-weight="normal" fill="#000" stroke="#000" stroke-width="0.4">PVWT</text>
<text transform="translate(280.40,601.20)" font-size="9.0" text-anchor="middle" font-weight="normal" fill="#000" stroke="#000" stroke-width="0.4">P1V1</text>
<text transform="translate(310.80,585.00)" font-size="9.0" text-anchor="middle" font-weight="normal" fill="#000" stroke="#000" stroke-width="0.4">P1V1</text>
<text transform="translate(310.80,601.20)" font-size="9.0" text-anchor="middle" font-weight="normal" fill="#000" stroke="#000" stroke-width="0.4">PVWT</text>
<text transform="translate(340.80,585.00)" font-size="9.0" text-anchor="middle" font-weight="normal" fill="#000" stroke="#000" stroke-width="0.4">P1V1</text>
<text transform="translate(340.80,601.20)" font-size="9.0" text-anchor="middle" font-weight="normal" fill="#000" stroke="#000" stroke-width="0.4">P1V1</text>
<text transform="translate(366.60,585.00)" font-size="8.9" text-anchor="start" font-weight="normal" fill="#000" stroke="#000" stroke-width="0.4">Donor</text>
<text transform="translate(366.60,601.20)" font-size="8.9" text-anchor="start" font-weight="normal" fill="#000" stroke="#000" stroke-width="0.4">Recip.</text>
<text transform="translate(412.70,585.00)" font-size="9.0" text-anchor="middle" font-weight="normal" fill="#000" stroke="#000" stroke-width="0.4">PVWT</text>
<text transform="translate(412.70,601.20)" font-size="9.0" text-anchor="middle" font-weight="normal" fill="#000" stroke="#000" stroke-width="0.4">PVWT</text>
<text transform="translate(442.60,585.00)" font-size="9.0" text-anchor="middle" font-weight="normal" fill="#000" stroke="#000" stroke-width="0.4">PVWT</text>
<text transform="translate(442.60,601.20)" font-size="9.0" text-anchor="middle" font-weight="normal" fill="#000" stroke="#000" stroke-width="0.4">P1V3</text>
<text transform="translate(472.40,585.00)" font-size="9.0" text-anchor="middle" font-weight="normal" fill="#000" stroke="#000" stroke-width="0.4">P1V3</text>
<text transform="translate(472.40,601.20)" font-size="9.0" text-anchor="middle" font-weight="normal" fill="#000" stroke="#000" stroke-width="0.4">PVWT</text>
<text transform="translate(502.30,585.00)" font-size="9.0" text-anchor="middle" font-weight="normal" fill="#000" stroke="#000" stroke-width="0.4">P1V3</text>
<text transform="translate(502.30,601.20)" font-size="9.0" text-anchor="middle" font-weight="normal" fill="#000" stroke="#000" stroke-width="0.4">P1V3</text>
</svg>
</body></html>
